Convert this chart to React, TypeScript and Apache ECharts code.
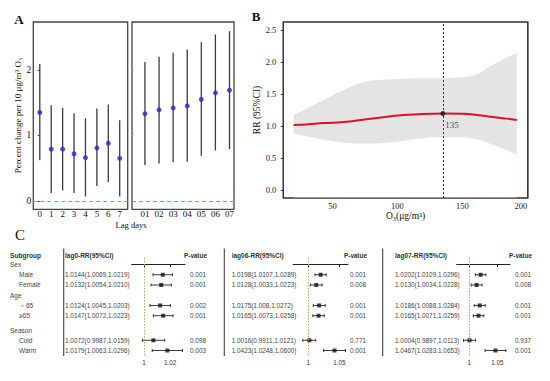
import React, { useEffect, useRef } from "react";
import * as echarts from "echarts";

// ---------- Panel A data ----------
const singleLags = ["0", "1", "2", "3", "4", "5", "6", "7"];
const singleEst = [1.35, 0.79, 0.79, 0.72, 0.66, 0.81, 0.88, 0.65];
const singleLo = [0.62, 0.12, 0.16, 0.12, 0.07, 0.23, 0.29, 0.07];
const singleHi = [2.09, 1.46, 1.42, 1.34, 1.26, 1.41, 1.47, 1.23];

const cumLags = ["01", "02", "03", "04", "05", "06", "07"];
const cumEst = [1.33, 1.39, 1.42, 1.45, 1.55, 1.65, 1.69];
const cumLo = [0.55, 0.57, 0.59, 0.6, 0.69, 0.77, 0.79];
const cumHi = [2.12, 2.2, 2.26, 2.31, 2.42, 2.54, 2.59];

// ---------- Panel B data ----------
const o3 = [20, 30, 43, 61, 76, 92, 100, 117, 135, 150, 160, 170, 180, 192];
const rr = [1.02, 1.03, 1.05, 1.07, 1.11, 1.15, 1.17, 1.19, 1.2, 1.195, 1.18, 1.155, 1.13, 1.1];
const rrLo = [0.89, 0.84, 0.79, 0.74, 0.73, 0.745, 0.76, 0.81, 0.83, 0.83, 0.8, 0.74, 0.66, 0.555];
const rrHi = [1.18, 1.28, 1.41, 1.59, 1.7, 1.73, 1.74, 1.75, 1.75, 1.77, 1.8, 1.92, 2.03, 2.15];
const thresholdO3 = 135;
const thresholdRR = 1.2;
const o3Ticks = [50, 100, 150, 200];
const rrTicks = [0, 0.5, 1, 1.5, 2, 2.5];

// ---------- Panel C data ----------
const subgroups = ["Sex", "Male", "Female", "Age", "＜65", "≥65", "Season", "Cold", "Warm"];
const groupHeader = [true, false, false, true, false, false, true, false, false];
const dataRowIdx = [1, 2, 4, 5, 7, 8];

const lag0Est = ["1.0144", "1.0132", "1.0124", "1.0147", "1.0072", "1.0179"];
const lag0Lo = ["1.0069", "1.0054", "1.0045", "1.0072", "0.9987", "1.0063"];
const lag0Hi = ["1.0219", "1.0210", "1.0203", "1.0223", "1.0159", "1.0296"];
const lag0P = ["0.001", "0.001", "0.002", "0.001", "0.098", "0.003"];

const lag06Est = ["1.0198", "1.0128", "1.0175", "1.0165", "1.0016", "1.0423"];
const lag06Lo = ["1.0107", "1.0033", "1.008", "1.0073", "0.9911", "1.0248"];
const lag06Hi = ["1.0289", "1.0223", "1.0272", "1.0258", "1.0121", "1.0600"];
const lag06P = ["0.001", "0.008", "0.001", "0.001", "0.771", "0.001"];

const lag07Est = ["1.0202", "1.0130", "1.0186", "1.0165", "1.0004", "1.0467"];
const lag07Lo = ["1.0109", "1.0034", "1.0088", "1.0071", "0.9897", "1.0283"];
const lag07Hi = ["1.0296", "1.0228", "1.0284", "1.0259", "1.0113", "1.0653"];
const lag07P = ["0.001", "0.008", "0.001", "0.001", "0.937", "0.001"];

// ---------- layout / style ----------
const SERIF = '"Liberation Serif", "DejaVu Serif", serif';
const SANS = '"Liberation Sans", "DejaVu Sans", sans-serif';
const ROW_TOP = 264.5;
const ROW_STEP = 10.24;
const FOREST_TOP = 258;
const FOREST_BOTTOM = 356;
const slotOf = (i: number) => i + (i >= 6 ? 0.4 : 0);
const rowY = (i: number) => ROW_TOP + slotOf(i) * ROW_STEP;

const forestCols = [
  { title: "lag0-RR(95%CI)", est: lag0Est, lo: lag0Lo, hi: lag0Hi, p: lag0P, ticks: [1, 1.02],
    sepX: 63.7, textX: 65, left: 131.7, width: 53.3, min: 0.9905, max: 1.0315, pRight: 207 },
  { title: "lag06-RR(95%CI)", est: lag06Est, lo: lag06Lo, hi: lag06Hi, p: lag06P, ticks: [1, 1.05],
    sepX: 224.3, textX: 231.7, left: 293, width: 55, min: 0.9753, max: 1.064, pRight: 367 },
  { title: "lag07-RR(95%CI)", est: lag07Est, lo: lag07Lo, hi: lag07Hi, p: lag07P, ticks: [1, 1.05],
    sepX: 382.7, textX: 395, left: 456.7, width: 53.3, min: 0.9775, max: 1.0727, pRight: 532 },
];

function vErrorBar(color: string) {
  return (params: any, api: any) => {
    const x = api.value(0);
    const a = api.coord([x, api.value(1)]);
    const b = api.coord([x, api.value(2)]);
    return {
      type: "line",
      shape: { x1: a[0], y1: a[1], x2: b[0], y2: b[1] },
      style: { stroke: color, lineWidth: 1.3 },
    };
  };
}

function hErrorBar(params: any, api: any) {
  const y = api.value(2);
  const a = api.coord([api.value(0), y]);
  const b = api.coord([api.value(1), y]);
  const st = { stroke: "#222", lineWidth: 0.9 };
  return {
    type: "group",
    children: [
      { type: "line", shape: { x1: a[0], y1: a[1], x2: b[0], y2: b[1] }, style: st },
      { type: "line", shape: { x1: a[0], y1: a[1] - 1.5, x2: a[0], y2: a[1] + 1.5 }, style: st },
      { type: "line", shape: { x1: b[0], y1: b[1] - 1.5, x2: b[0], y2: b[1] + 1.5 }, style: st },
    ],
  };
}

function buildOption() {
  const zeroLine = {
    silent: true,
    symbol: "none",
    label: { show: false },
    lineStyle: { type: [4, 3], color: "#d2845c", width: 1 },
    data: [{ yAxis: 0 }],
  };

  const grids: any[] = [
    { left: 33.3, top: 22, width: 94.4, height: 187.3, show: true, borderColor: "#444", borderWidth: 1.3, outerBoundsMode: "none" },
    { left: 132, top: 22, width: 102, height: 187.3, show: true, borderColor: "#444", borderWidth: 1.3, outerBoundsMode: "none" },
    { left: 283.3, top: 22, width: 244.5, height: 176, show: true, borderColor: "#333", borderWidth: 1.2, outerBoundsMode: "none" },
  ];
  const xAxes: any[] = [
    {
      gridIndex: 0, type: "value", min: -0.57, max: 7.7,
      axisLine: { show: false }, axisTick: { show: false }, splitLine: { show: false },
      axisLabel: { customValues: singleLags.map((_, i) => i), formatter: (v: number) => singleLags[v],
        fontSize: 9, margin: 0.5, color: "#111", fontFamily: SERIF },
    },
    {
      gridIndex: 1, type: "value", min: 0.08, max: 7.32,
      axisLine: { show: false }, axisTick: { show: false }, splitLine: { show: false },
      axisLabel: { customValues: cumLags.map((_, i) => i + 1), formatter: (v: number) => cumLags[v - 1],
        fontSize: 9, margin: 0.5, color: "#111", fontFamily: SERIF },
    },
    {
      gridIndex: 2, type: "value", min: 12, max: 200.5,
      axisLine: { show: false }, splitLine: { show: false },
      axisTick: { show: true, customValues: o3Ticks, length: 2.5, lineStyle: { color: "#333" } },
      axisLabel: { customValues: o3Ticks, fontSize: 8.5, margin: 3, color: "#222", fontFamily: SERIF, alignMaxLabel: "right" },
      name: "O₃(μg/m³)", nameLocation: "middle", nameGap: 11,
      nameTextStyle: { fontSize: 9.5, color: "#111", fontFamily: SERIF },
    },
  ];
  const yAxes: any[] = [
    {
      gridIndex: 0, type: "value", min: -0.127, max: 2.73,
      axisLine: { show: false }, splitLine: { show: false },
      axisTick: { show: true, customValues: [0, 1, 2], length: 2, lineStyle: { color: "#333" } },
      axisLabel: { customValues: [0, 1, 2], fontSize: 9.5, margin: 2, color: "#111", fontFamily: SERIF },
      name: "Percent change per 10 μg/m³ O₃", nameLocation: "middle", nameGap: 9, nameRotate: 90,
      nameTextStyle: { fontSize: 9, color: "#111", fontFamily: SERIF },
    },
    {
      gridIndex: 1, type: "value", min: -0.127, max: 2.73,
      axisLine: { show: false }, splitLine: { show: false }, axisLabel: { show: false },
      axisTick: { show: true, inside: true, customValues: [1, 2], length: 2, lineStyle: { color: "#bbb" } },
    },
    {
      gridIndex: 2, type: "value", min: -0.12, max: 2.63,
      axisLine: { show: false }, splitLine: { show: false },
      axisTick: { show: true, customValues: rrTicks, length: 2.5, lineStyle: { color: "#333" } },
      axisLabel: { customValues: rrTicks, formatter: (v: number) => v.toFixed(1), fontSize: 8.5, margin: 7,
        color: "#222", fontFamily: SERIF },
      name: "RR (95%CI)", nameLocation: "middle", nameGap: 20, nameRotate: 90,
      nameTextStyle: { fontSize: 9.5, color: "#111", fontFamily: SERIF },
    },
  ];

  const series: any[] = [
    {
      type: "custom", xAxisIndex: 0, yAxisIndex: 0,
      data: singleLags.map((_, i) => [i, singleLo[i], singleHi[i]]),
      encode: { x: 0, y: [1, 2] }, renderItem: vErrorBar("#3c3c3c"),
    },
    {
      type: "scatter", xAxisIndex: 0, yAxisIndex: 0, symbolSize: 5,
      itemStyle: { color: "#1f2bd6" },
      data: singleLags.map((_, i) => [i, singleEst[i]]),
      markLine: zeroLine,
    },
    {
      type: "custom", xAxisIndex: 1, yAxisIndex: 1,
      data: cumLags.map((_, i) => [i + 1, cumLo[i], cumHi[i]]),
      encode: { x: 0, y: [1, 2] }, renderItem: vErrorBar("#3c3c3c"),
    },
    {
      type: "scatter", xAxisIndex: 1, yAxisIndex: 1, symbolSize: 5,
      itemStyle: { color: "#1f2bd6" },
      data: cumLags.map((_, i) => [i + 1, cumEst[i]]),
      markLine: zeroLine,
    },
    // CI band: gray fill under the upper bound, then white fill under the lower bound
    {
      type: "line", xAxisIndex: 2, yAxisIndex: 2, smooth: 0.4, symbol: "none",
      lineStyle: { width: 0, opacity: 0 },
      areaStyle: { color: "#e4e4e4", opacity: 1, origin: "start" },
      data: o3.map((x, i) => [x, rrHi[i]]),
      z: 1,
    },
    {
      type: "line", xAxisIndex: 2, yAxisIndex: 2, smooth: 0.4, symbol: "none",
      lineStyle: { width: 0, opacity: 0 },
      areaStyle: { color: "#ffffff", opacity: 1, origin: "start" },
      data: o3.map((x, i) => [x, rrLo[i]]),
      z: 1,
    },
    {
      type: "line", xAxisIndex: 2, yAxisIndex: 2, smooth: 0.4, symbol: "none",
      lineStyle: { width: 2, color: "#e0102c" },
      data: o3.map((x, i) => [x, rr[i]]),
      z: 3,
    },
    {
      type: "scatter", xAxisIndex: 2, yAxisIndex: 2, symbolSize: 5,
      itemStyle: { color: "#111" },
      label: { show: true, formatter: String(thresholdO3), position: [5, 9], fontSize: 9, color: "#111", fontFamily: SERIF },
      data: [[thresholdO3, thresholdRR]],
      markLine: {
        silent: true, symbol: "none", label: { show: false },
        lineStyle: { type: [2, 2], color: "#333", width: 1 },
        data: [{ xAxis: thresholdO3 }],
      },
      z: 4,
    },
  ];

  const graphics: any[] = [
    { type: "text", x: 19, y: 19, style: { text: "A", font: `bold 13px ${SERIF}`, fill: "#111", textAlign: "center", textVerticalAlign: "middle" } },
    { type: "text", x: 256, y: 16.5, style: { text: "B", font: `bold 13px ${SERIF}`, fill: "#111", textAlign: "center", textVerticalAlign: "middle" } },
    { type: "text", x: 20, y: 235, style: { text: "C", font: `15px ${SERIF}`, fill: "#111", textAlign: "center", textVerticalAlign: "middle" } },
    { type: "text", x: 131, y: 225, style: { text: "Lag days", font: `8.5px ${SERIF}`, fill: "#111", textAlign: "center", textVerticalAlign: "middle" } },
    { type: "text", x: 10, y: 255, style: { text: "Subgroup", font: `bold 6.6px ${SANS}`, fill: "#333", textVerticalAlign: "middle" } },
    // redraw panel B frame on top of the band fills
    { type: "rect", shape: { x: 283.3, y: 22, width: 244.5, height: 176 }, style: { fill: "none", stroke: "#333", lineWidth: 1.2 }, z: 10 },
  ];
  subgroups.forEach((s, i) => {
    graphics.push({
      type: "text", x: groupHeader[i] ? 10 : 19, y: rowY(i),
      style: { text: s, font: `6.5px ${SANS}`, fill: "#444", textVerticalAlign: "middle" },
    });
  });

  forestCols.forEach((c, k) => {
    const gi = 3 + k;
    grids.push({ left: c.left, top: FOREST_TOP, width: c.width, height: FOREST_BOTTOM - FOREST_TOP, show: false, outerBoundsMode: "none" });
    xAxes.push({
      gridIndex: gi, type: "value", min: c.min, max: c.max,
      axisLine: { show: true, lineStyle: { color: "#222", width: 1 } },
      axisTick: { show: true, customValues: c.ticks, length: 2.5, lineStyle: { color: "#222" } },
      axisLabel: { customValues: c.ticks, formatter: (v: number) => String(v), fontSize: 6.3, margin: 3, color: "#333", fontFamily: SANS },
      splitLine: { show: false },
    });
    yAxes.push({
      gridIndex: gi, type: "value", inverse: true, show: false,
      min: (FOREST_TOP - ROW_TOP) / ROW_STEP, max: (FOREST_BOTTOM - ROW_TOP) / ROW_STEP,
      splitLine: { show: false },
    });
    series.push({
      type: "custom", xAxisIndex: gi, yAxisIndex: gi,
      data: dataRowIdx.map((r, j) => [Number(c.lo[j]), Number(c.hi[j]), slotOf(r)]),
      encode: { x: [0, 1], y: 2 }, renderItem: hErrorBar,
    });
    series.push({
      type: "scatter", xAxisIndex: gi, yAxisIndex: gi, symbol: "rect", symbolSize: 4,
      itemStyle: { color: "#111" },
      data: dataRowIdx.map((r, j) => [Number(c.est[j]), slotOf(r)]),
      markLine: {
        silent: true, symbol: "none", label: { show: false },
        lineStyle: { type: [1.5, 1.5], color: "#c9a06a", width: 1 },
        data: [{ xAxis: 1 }],
      },
      z: 3,
    });
    graphics.push({ type: "line", shape: { x1: c.sepX, y1: 248.5, x2: c.sepX, y2: 356 }, style: { stroke: "#444", lineWidth: 1.1 } });
    graphics.push({ type: "text", x: c.textX, y: 255, style: { text: c.title, font: `bold 6.5px ${SANS}`, fill: "#333", textVerticalAlign: "middle" } });
    graphics.push({ type: "text", x: c.pRight, y: 255, style: { text: "P-value", font: `bold 6.5px ${SANS}`, fill: "#333", textAlign: "right", textVerticalAlign: "middle" } });
    dataRowIdx.forEach((r, j) => {
      graphics.push({
        type: "text", x: c.textX, y: rowY(r),
        style: { text: `${c.est[j]}(${c.lo[j]},${c.hi[j]})`, font: `6.4px ${SANS}`, fill: "#444", textVerticalAlign: "middle" },
      });
      graphics.push({
        type: "text", x: c.pRight - 1, y: rowY(r),
        style: { text: c.p[j], font: `6.4px ${SANS}`, fill: "#444", textAlign: "right", textVerticalAlign: "middle" },
      });
    });
  });

  return {
    animation: false,
    backgroundColor: "#fff",
    textStyle: { fontFamily: SERIF },
    grid: grids,
    xAxis: xAxes,
    yAxis: yAxes,
    series,
    graphic: graphics,
  };
}

export default function App() {
  const ref = useRef<HTMLDivElement>(null);
  useEffect(() => {
    const chart = echarts.init(ref.current!, null, { renderer: "svg" });
    chart.setOption(buildOption() as any);
    return () => chart.dispose();
  }, []);
  return (
    <div
      ref={ref}
      style={{ position: "absolute", left: 0, top: 0, width: 550, height: 381, background: "#fff" }}
    />
  );
}
